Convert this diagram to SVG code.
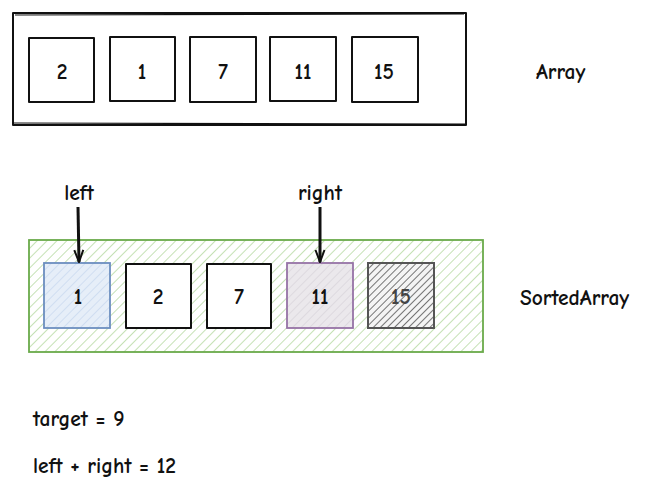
<svg xmlns="http://www.w3.org/2000/svg" width="650" height="495" viewBox="0 0 650 495">
<style>
text{font-family:"Comic Neue","Liberation Sans",sans-serif;font-size:21.5px;font-weight:700;fill:#111;}
.c{text-anchor:middle;}
.box{fill:none;stroke:#111;stroke-width:2;stroke-linejoin:round;}
.conn{stroke:#111;stroke-width:3;fill:none;}
</style>
<defs>
<pattern id="hg" patternUnits="userSpaceOnUse" width="7" height="7" patternTransform="rotate(45)">
<rect width="7" height="7" fill="#fff"/>
<line x1="0" y1="0" x2="0" y2="7" stroke="#acd596" stroke-width="1.4"/>
</pattern>
<pattern id="hb" patternUnits="userSpaceOnUse" width="6" height="6" patternTransform="rotate(45)">
<rect width="6" height="6" fill="#e6eef8"/>
<line x1="0" y1="0" x2="0" y2="6" stroke="#c4d6ee" stroke-width="1.3"/>
</pattern>
<pattern id="hp" patternUnits="userSpaceOnUse" width="6" height="6" patternTransform="rotate(45)">
<rect width="6" height="6" fill="#ebe8ec"/>
<line x1="0" y1="0" x2="0" y2="6" stroke="#d6d2d8" stroke-width="1.3"/>
</pattern>
<pattern id="hd" patternUnits="userSpaceOnUse" width="5" height="5" patternTransform="rotate(45)">
<rect width="5" height="5" fill="#f4f4f4"/>
<line x1="0" y1="0" x2="0" y2="5" stroke="#555" stroke-width="1.6"/>
</pattern>
<marker id="ah" viewBox="0 0 14 12" refX="13" refY="6" markerWidth="14" markerHeight="12" markerUnits="userSpaceOnUse" orient="auto">
<path d="M1,1.5 L13,6 L1,10.5" fill="none" stroke="#111" stroke-width="2"/>
</marker>
</defs>

<g id="array">
<rect x="13" y="13" width="453" height="112" class="box"/>
<path d="M15,15 L464,14 M12,123 L467,124" fill="none" stroke="#111" stroke-width="1.2"/>
</g>
<g id="a0"><rect x="29" y="38" width="65" height="64" class="box"/><text x="62" y="79" class="c">2</text></g>
<g id="a1"><rect x="110" y="37" width="65" height="64" class="box"/><text x="142" y="79" class="c">1</text></g>
<g id="a2"><rect x="190" y="37" width="66" height="65" class="box"/><text x="223" y="79" class="c">7</text></g>
<g id="a3"><rect x="270" y="37" width="66" height="64" class="box"/><text x="303" y="79" class="c">11</text></g>
<g id="a4"><rect x="352" y="37" width="66" height="65" class="box"/><text x="384" y="79" class="c">15</text></g>
<g id="lblArray"><text x="536" y="79">Array</text></g>

<g id="sorted">
<rect x="29" y="240" width="454" height="112" fill="url(#hg)" stroke="#6aaa4a" stroke-width="1.8"/>
</g>
<g id="s0"><rect x="44" y="263" width="66" height="65" fill="url(#hb)" stroke="#6c8ebf" stroke-width="1.8"/><text x="78" y="304" class="c">1</text></g>
<g id="s1"><rect x="126" y="264" width="65" height="64" class="box" style="fill:#fff"/><text x="158" y="304" class="c">2</text></g>
<g id="s2"><rect x="207" y="264" width="64" height="64" class="box" style="fill:#fff"/><text x="239" y="304" class="c">7</text></g>
<g id="s3"><rect x="287" y="263" width="66" height="65" fill="url(#hp)" stroke="#9673a6" stroke-width="1.8"/><text x="320" y="304" class="c">11</text></g>
<g id="s4"><rect x="368" y="263" width="66" height="65" fill="url(#hd)" stroke="#555" stroke-width="2"/><text x="401" y="304" class="c" style="fill:#444">15</text></g>
<g id="lblSorted"><text x="520" y="305">SortedArray</text></g>

<g id="lblLeft"><text x="79" y="200" class="c">left</text></g>
<g id="lblRight"><text x="320" y="200" class="c">right</text></g>

<g id="connectors">
<path d="M78,207 L79,262" class="conn" marker-end="url(#ah)"/>
<path d="M320,207 L320,262" class="conn" stroke-width="2.2" marker-end="url(#ah)"/>
</g>

<g id="lblTarget"><text x="33" y="426">target = 9</text></g>
<g id="lblSum"><text x="33" y="473">left + right = 12</text></g>
</svg>
